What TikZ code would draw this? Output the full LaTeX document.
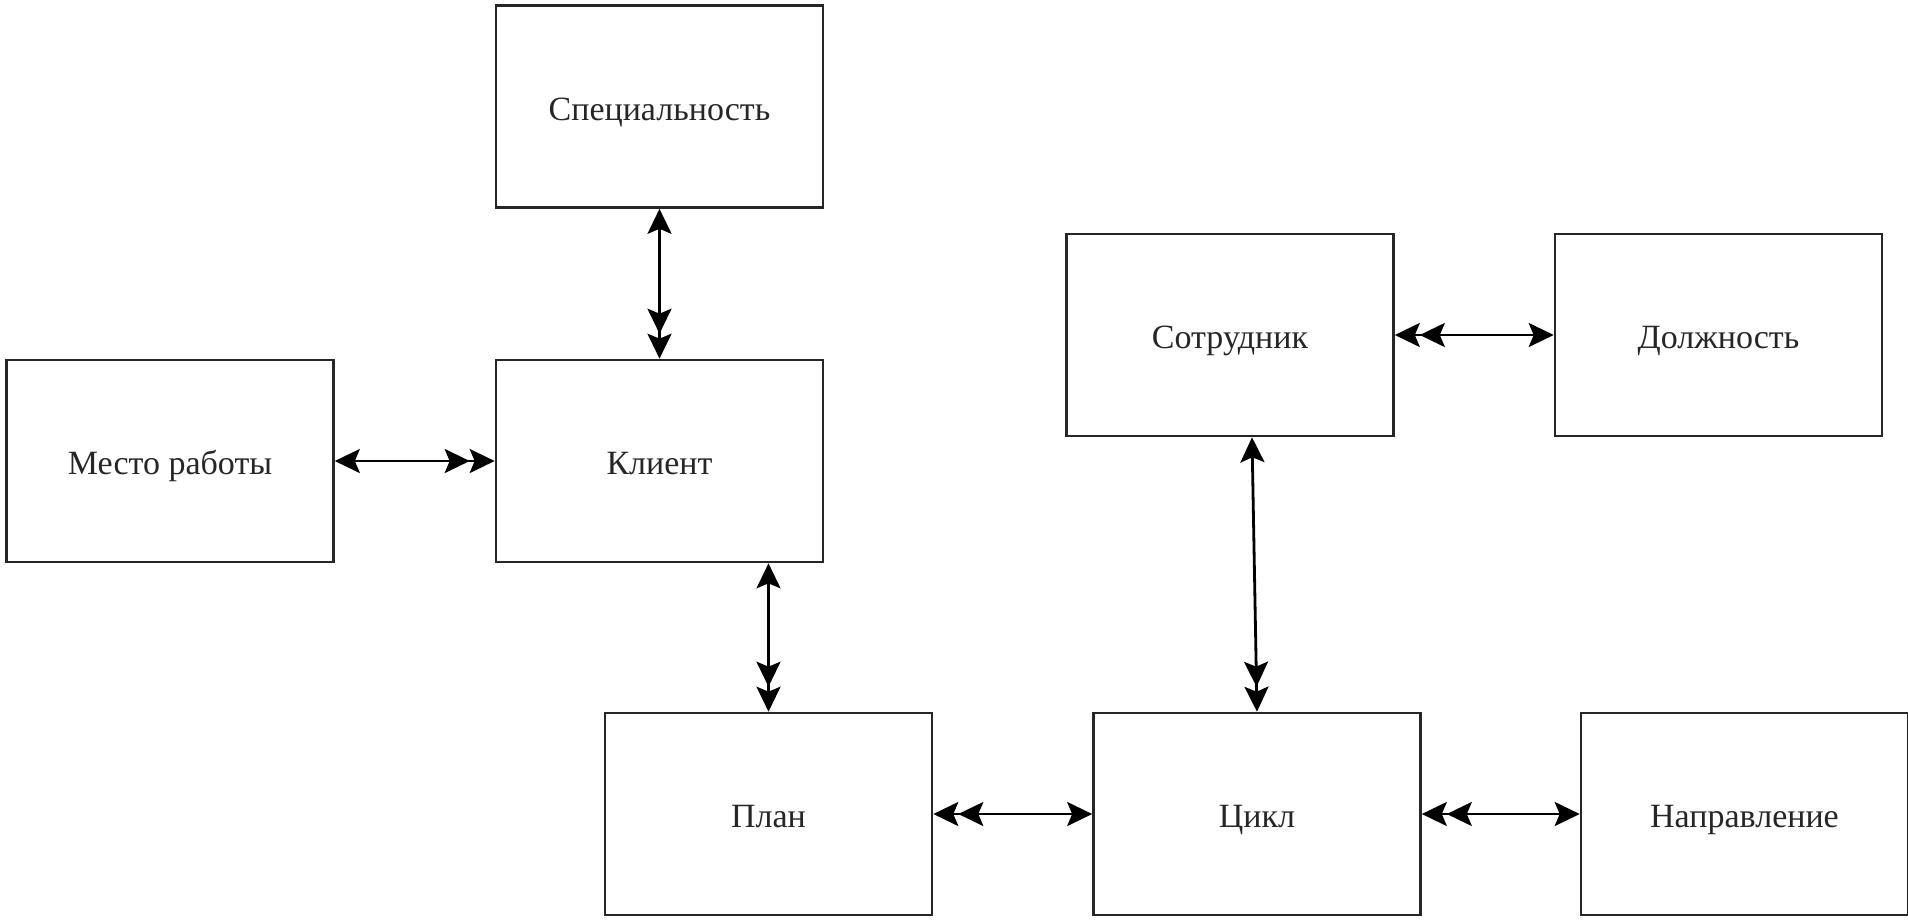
\documentclass[tikz,border=0pt]{standalone}
\usepackage{fontspec}
\setmainfont{Liberation Serif}
\usetikzlibrary{arrows.meta,calc}
\tikzset{
  box/.style={draw=black!85, line width=1.3pt, rectangle, minimum width=163.5pt, minimum height=101pt,
    inner sep=0pt, text height=13.5pt, text depth=0pt, font=\fontsize{17}{20}\selectfont, text=black!85},
  rel/.style={line width=1.4pt, draw=black,
    {Stealth[length=12.5pt,width=12pt,inset=2.5pt]}-{Stealth[length=12.5pt,width=12pt,inset=2.5pt] Stealth[length=12.5pt,width=12pt,inset=2.5pt]}}
}
\begin{document}
\begin{tikzpicture}[x=0.5pt,y=-0.5pt]
\useasboundingbox (0,0) rectangle (1908,923);
\node[box] (spec)   at (659.5,106.5) {Специальность};
\node[box] (mesto)  at (170,461)     {Место работы};
\node[box] (klient) at (659.5,461)   {Клиент};
\node[box] (sotr)   at (1230,335)    {Сотрудник};
\node[box] (dolzh)  at (1718.5,335)  {Должность};
\node[box] (plan)   at (768.5,814)   {План};
\node[box] (cikl)   at (1257,814)    {Цикл};
\node[box] (napr)   at (1744.5,814)  {Направление};

\draw[rel] (spec) -- (klient);
\draw[rel] (mesto) -- (klient);
\draw[rel] (plan.north |- klient.south) -- (plan.north);
\draw[rel] (cikl) -- (plan);
\draw[rel] (napr) -- (cikl);
\draw[rel] (dolzh) -- (sotr);
\draw[rel] ($(sotr.south)+(22,0)$) -- (cikl.north);
\end{tikzpicture}
\end{document}
